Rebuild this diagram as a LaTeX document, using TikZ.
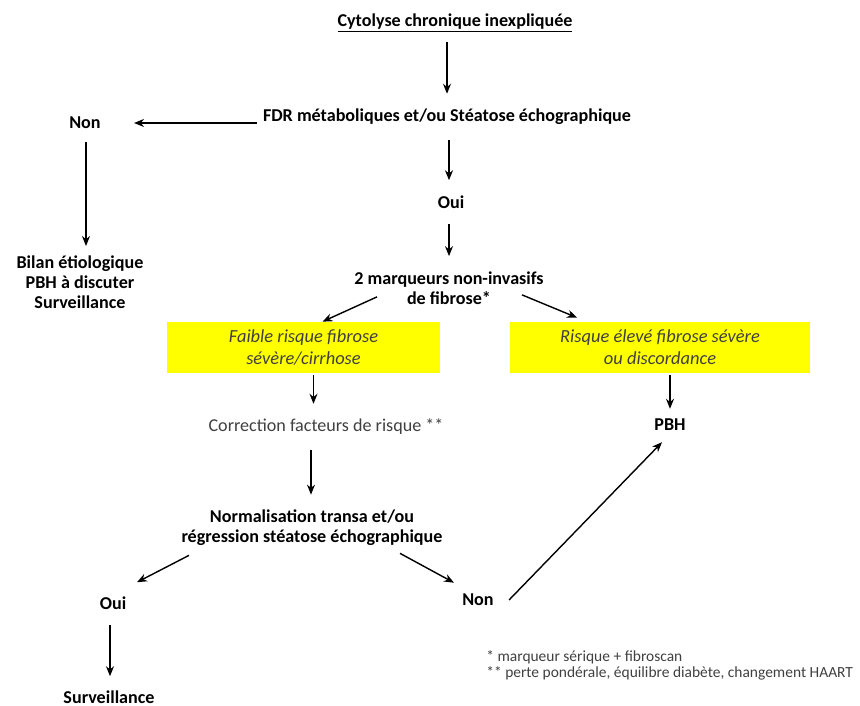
\documentclass[tikz,border=0pt]{standalone}
\usepackage{fontspec}
\setmainfont{Carlito}
\usepackage{tikz}
\usetikzlibrary{arrows.meta, positioning, calc}
\definecolor{boxyellow}{RGB}{255, 255, 0}
\definecolor{txtgray}{RGB}{64, 64, 64}
\tikzset{
    label/.style={inner sep=0pt, align=center, font=\fontsize{10.3}{11.5}\selectfont\bfseries, text=black},
    plainlabel/.style={inner sep=0pt, align=center, font=\fontsize{10.3}{11.5}\selectfont, text=txtgray},
    riskbox/.style={draw=none, fill=boxyellow, rectangle, minimum height=1.02cm, inner sep=0pt, align=center, font=\fontsize{10.5}{12.5}\selectfont\itshape, text=txtgray},
    note/.style={inner sep=0pt, align=left, font=\fontsize{8.8}{9.2}\selectfont, text=txtgray, anchor=west},
    flow/.style={-{Stealth[length=2mm, width=1.6mm]}, thick, draw=black},
}
\begin{document}
\begin{tikzpicture}
    \useasboundingbox (0,0) rectangle (17.2,-14.12);

    % Top of the chart
    \node[label] (cytolyse) at (9.1,-0.46) {\underline{Cytolyse chronique inexpliquée}};
    \node[label] (fdr) at (8.94,-2.34) {FDR métaboliques et/ou Stéatose échographique};

    % Left branch
    \node[label] (non1) at (1.7,-2.46) {Non};
    \node[label] (bilan) at (1.6,-5.64) {Bilan étiologique\\PBH à discuter\\Surveillance};

    % Middle column
    \node[label] (oui1) at (9.02,-4.04) {Oui};
    \node[label] (marqueurs) at (8.98,-5.76) {2 marqueurs non-invasifs\\de fibrose*};

    % Yellow boxes
    \node[riskbox, minimum width=5.46cm] (faible) at (6.07,-6.95) {Faible risque fibrose\\sévère/cirrhose};
    \node[riskbox, minimum width=6.0cm] (eleve) at (13.2,-6.95) {Risque élevé fibrose sévère\\ou discordance};

    % Lower part
    \node[plainlabel] (correction) at (6.52,-8.54) {Correction facteurs de risque **};
    \node[label] (pbh) at (13.4,-8.5) {PBH};
    \node[label] (normal) at (6.24,-10.56) {Normalisation transa et/ou\\régression stéatose échographique};
    \node[label] (oui2) at (2.26,-12.06) {Oui};
    \node[label] (non2) at (9.56,-12.0) {Non};
    \node[label] (surv) at (2.18,-13.94) {Surveillance};

    % Footnotes
    \node[note] (note1) at (9.72,-13.14) {* marqueur sérique + fibroscan};
    \node[note] (note2) at (9.72,-13.46) {** perte pondérale, équilibre diabète, changement HAART};

    % Connections
    \draw[flow] ([yshift=-0.18cm]cytolyse.south -| fdr.north) -- ([yshift=0.3cm]fdr.north);
    \draw[flow] ([xshift=-0.12cm]fdr.west |- non1.east) -- ([xshift=0.66cm]non1.east);
    \draw[flow] ([shift={(0.02cm,-0.26cm)}]non1.south) -- ([shift={(0.02cm,0.18cm)}]non1.south |- bilan.north);
    \draw[flow] ([yshift=-0.3cm]fdr.south -| marqueurs.north) -- ([yshift=0.3cm]oui1.north -| marqueurs.north);
    \draw[flow] ([yshift=-0.3cm]oui1.south -| marqueurs.north) -- ([yshift=0.3cm]marqueurs.north);
    \draw[flow] ([shift={(-1.44cm,0.16cm)}]marqueurs.south) -- ([xshift=0.38cm]faible.north);
    \draw[flow] ([shift={(1.46cm,0.2cm)}]marqueurs.south) -- ([shift={(-1.66cm,0.08cm)}]eleve.north);
    \draw[flow] ([shift={(0.2cm,-0.04cm)}]faible.south) -- ([shift={(0.2cm,0.3cm)}]faible.south |- correction.north);
    \draw[flow] ([yshift=-0.04cm]eleve.south -| pbh.north) -- ([yshift=0.2cm]pbh.north);
    \draw[flow] ([shift={(-0.3cm,-0.3cm)}]correction.south) -- ([shift={(-0.3cm,0.3cm)}]correction.south |- normal.north);
    \draw[flow] ([shift={(-2.46cm,-0.18cm)}]normal.south) -- ([shift={(0.48cm,0.28cm)}]oui2.north);
    \draw[flow] ([shift={(1.76cm,-0.14cm)}]normal.south) -- ([shift={(-0.48cm,0.22cm)}]non2.north);
    \draw[flow] ([shift={(-0.06cm,-0.3cm)}]oui2.south) -- ([shift={(-0.06cm,0.28cm)}]oui2.south |- surv.north);
    \draw[flow] ([xshift=0.3cm]non2.east) -- ([shift={(-0.16cm,-0.22cm)}]pbh.south);
\end{tikzpicture}
\end{document}
